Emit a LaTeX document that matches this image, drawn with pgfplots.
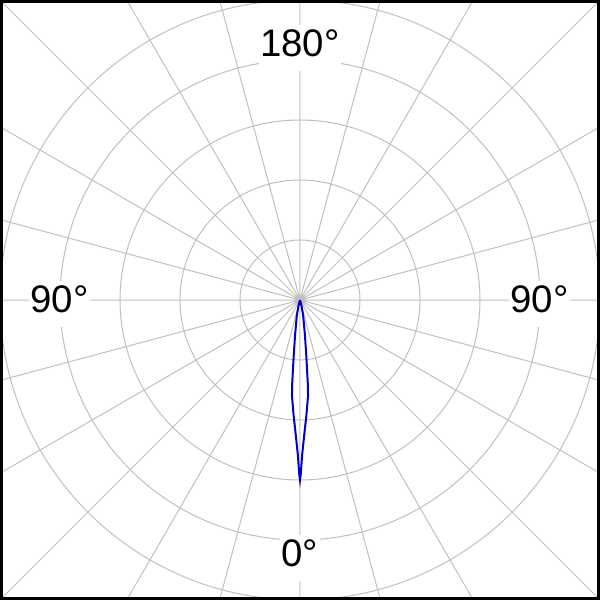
\documentclass[border=0pt]{standalone}
\usepackage{pgfplots}
\pgfplotsset{compat=1.18}
\usepgfplotslibrary{polar}
\usepackage{fontspec}
\setmainfont{Liberation Sans}
\definecolor{gridgray}{RGB}{192,192,192}
\definecolor{lobeblue}{RGB}{0,0,205}
\begin{document}
\begin{tikzpicture}
\path[use as bounding box] (0,0) rectangle (300pt,300pt);
\begin{scope}
\clip (0,0) rectangle (300pt,300pt);
\begin{polaraxis}[
  at={(150pt,150pt)}, anchor=center,
  scale only axis, width=426pt, height=426pt,
  ymin=0, ymax=7.1,
  ytick={1,2,3,4,5}, yticklabels={},
  xtick={0,15,...,345}, xticklabels={},
  grid=major,
  major grid style={draw=gridgray, line width=0.5pt},
  axis line style={draw=none},
  tick style={draw=none},
]
\addplot[lobeblue, line width=1pt, mark=none] coordinates {
(250,0) (255,0.09) (258.4,0.26) (262,0.59) (263.5,0.92) (264.3,1.2)
(264.7,1.42) (265.2,1.6) (266.8,1.92) (268.2,2.25) (269.2,2.58) (269.75,2.9) (270,3.0)
(270.25,2.9) (270.8,2.58) (271.8,2.25) (273.2,1.92) (274.8,1.6) (275.3,1.42)
(275.7,1.2) (276.5,0.92) (278,0.59) (281.6,0.26) (285,0.09) (290,0)
};
\end{polaraxis}
\end{scope}
\begin{scope}[every node/.style={fill=white, inner xsep=0.6pt, inner ysep=0pt, anchor=base, font=\fontsize{19.2}{23}\selectfont}]
\node at (150pt,271.5pt) {\strut 180°};
\node at (150pt,16.5pt) {\strut 0°};
\node at (29.75pt,143.5pt) {\strut 90°};
\node at (269.75pt,143.5pt) {\strut 90°};
\end{scope}
\draw[black, line width=1.3pt] (0.65pt,0.65pt) rectangle (299.35pt,299.35pt);
\end{tikzpicture}
\end{document}
